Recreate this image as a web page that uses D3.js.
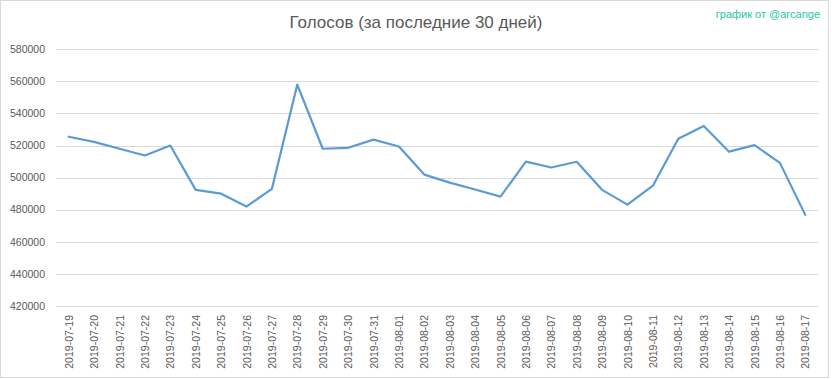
<!DOCTYPE html>
<html><head><meta charset="utf-8">
<script src="https://cdn.jsdelivr.net/npm/d3@7"></script>
<style>body{margin:0;background:#fff;}svg{display:block;}</style>
</head><body>
<script>
const dates = ["2019-07-19","2019-07-20","2019-07-21","2019-07-22","2019-07-23","2019-07-24","2019-07-25","2019-07-26","2019-07-27","2019-07-28","2019-07-29","2019-07-30","2019-07-31","2019-08-01","2019-08-02","2019-08-03","2019-08-04","2019-08-05","2019-08-06","2019-08-07","2019-08-08","2019-08-09","2019-08-10","2019-08-11","2019-08-12","2019-08-13","2019-08-14","2019-08-15","2019-08-16","2019-08-17"];
const votes = [525500,522300,518000,513800,520000,492400,490000,482000,493000,558000,518000,518600,523700,519400,501900,496900,492600,488200,510000,506300,509900,492400,483200,495000,524300,532200,516200,520300,509200,476800];
const yTicks = [420000,440000,460000,480000,500000,520000,540000,560000,580000];
const title = "Голосов (за последние 30 дней)";
const credit = "график от @arcange";

const W = 832, H = 379;
const m = {left:56, right:14, top:49.3, bottom:73};
const svg = d3.select("body").append("svg").attr("width",W).attr("height",H);
svg.append("rect").attr("x",0.5).attr("y",0.5).attr("width",828).attr("height",377)
  .attr("fill","#fff").attr("stroke","#d9d9d9");

const x = d3.scaleBand().domain(dates).range([m.left, 818]);
const y = d3.scaleLinear().domain([420000,580000]).range([306, 49.3]);

const font = "'Liberation Sans', Arial, sans-serif";

// gridlines
svg.append("g").selectAll("line").data(yTicks).join("line")
  .attr("x1",m.left).attr("x2",818)
  .attr("y1",d=>Math.round(y(d))+0.5).attr("y2",d=>Math.round(y(d))+0.5)
  .attr("stroke","#d9d9d9").attr("stroke-width",1);

// y labels
svg.append("g").selectAll("text").data(yTicks).join("text")
  .attr("x",45).attr("y",d=>y(d)).attr("dy","0.35em")
  .attr("text-anchor","end").attr("font-family",font).attr("font-size","10.5px")
  .attr("fill","#595959").text(d=>d);

// x labels
svg.append("g").selectAll("text").data(dates).join("text")
  .attr("transform",d=>`translate(${x(d)+x.bandwidth()/2+4},315) rotate(-90)`)
  .attr("text-anchor","end").attr("font-family",font).attr("font-size","10.5px")
  .attr("fill","#595959").text(d=>d);

// line
const line = d3.line().x((d,i)=>x(dates[i])+x.bandwidth()/2).y(d=>y(d));
svg.append("path").datum(votes).attr("d",line).attr("fill","none")
  .attr("stroke","#5b9bd5").attr("stroke-width",2.2).attr("stroke-linejoin","round").attr("stroke-linecap","round");

svg.append("text").attr("x",416).attr("y",28).attr("text-anchor","middle")
  .attr("font-family",font).attr("font-size","17px").attr("fill","#595959").text(title);
svg.append("text").attr("x",820).attr("y",18).attr("text-anchor","end")
  .attr("font-family",font).attr("font-size","11px").attr("fill","#1ec8a5").text(credit);
</script>
</body></html>
